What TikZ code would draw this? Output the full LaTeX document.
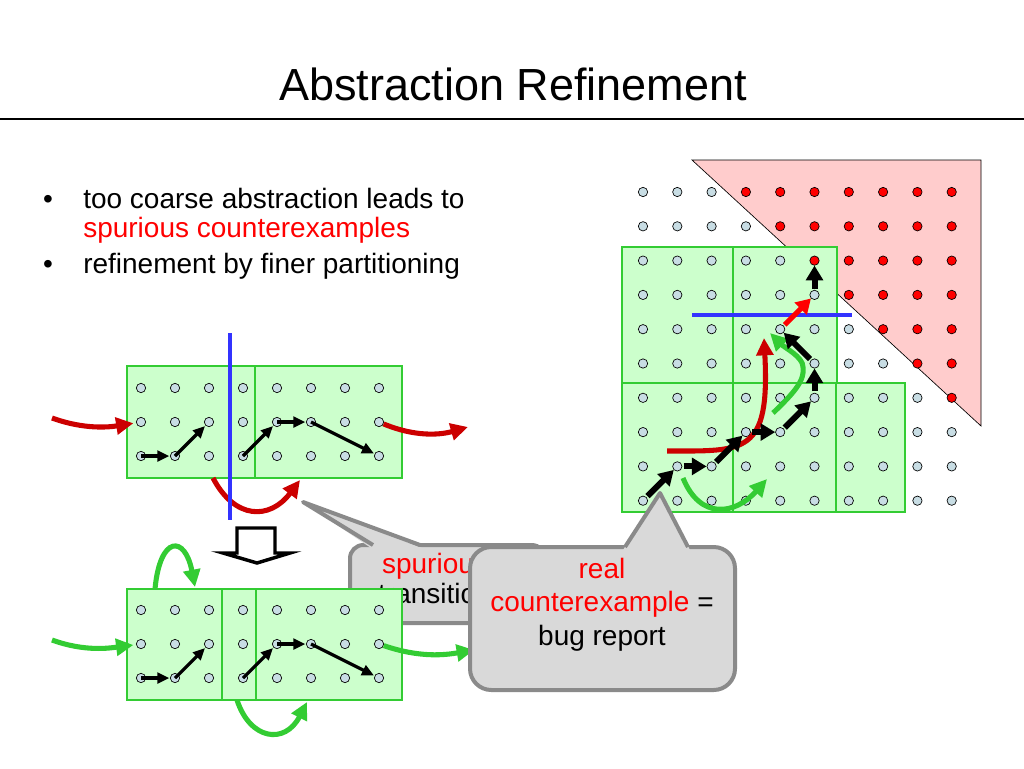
\documentclass[tikz,border=0pt]{standalone}
\usepackage{fontspec}
\setmainfont{Liberation Sans}
\usetikzlibrary{arrows.meta}

\definecolor{boxgreen}{HTML}{CCFFCC}
\definecolor{linegreen}{HTML}{33CC33}
\definecolor{dotblue}{HTML}{C8DDE4}
\definecolor{darkred}{HTML}{CC0000}
\definecolor{brightred}{HTML}{FF0000}
\definecolor{badpink}{HTML}{FFCCCC}
\definecolor{cutblue}{HTML}{3333FF}
\definecolor{bubblegray}{HTML}{D9D9D9}
\definecolor{bubbleedge}{HTML}{8A8A8A}

\tikzset{
  dot/.style={circle,draw=black,line width=0.5pt,fill=dotblue,minimum size=7pt,inner sep=0pt},
  baddot/.style={dot,fill=brightred},
  part/.style={draw=linegreen,line width=2.2pt,fill=boxgreen},
  move/.style={-{Triangle[length=9pt,width=8pt]},line width=2.4pt,shorten >=0.5pt},
  bigmove/.style={-{Triangle[length=11pt,width=12.5pt]},line width=4.5pt,shorten <=1pt},
  redflow/.style={-{Triangle[length=13pt,width=12.5pt]},line width=3.8pt,draw=darkred},
  greenflow/.style={-{Triangle[length=13pt,width=12.5pt]},line width=3.8pt,draw=linegreen},
  cut/.style={draw=cutblue,line width=3.6pt},
  bubble/.style={draw=bubbleedge,line width=3pt,fill=bubblegray},
  txt/.style={font=\fontsize{21}{25}\selectfont,inner sep=0pt}
}

\begin{document}
\begin{tikzpicture}[x=0.75pt,y=-0.75pt]
\useasboundingbox[fill=white] (0,0) rectangle (1024,768);

% title and bullets
\node[anchor=base,font=\fontsize{33.75}{40}\selectfont] (title) at (513,100) {Abstraction Refinement};
\draw[line width=0.8pt] (0,119) -- (1024,119);
\node[txt,anchor=base] (dot1) at (48,208) {\textbullet};
\node[txt,anchor=base west] (b1) at (83,208) {too coarse abstraction leads to};
\node[txt,anchor=base west,text=brightred] (b1b) at (83,237) {spurious counterexamples};
\node[txt,anchor=base] (dot2) at (48,273) {\textbullet};
\node[txt,anchor=base west] (b2) at (83,273) {refinement by finer partitioning};

% bad states
\filldraw[fill=badpink,draw=black,line width=0.5pt] (692,160) -- (981,160) -- (981,426) -- cycle;

% refined partition
\draw[part] (622,247) rectangle (733,383);
\draw[part] (733,247) rectangle (837,383);
\draw[part] (622,383) rectangle (733,512);
\draw[part] (733,383) rectangle (836,512);
\draw[part] (836,383) rectangle (905,512);

\foreach \i in {0,...,9}
  \foreach \j in {0,...,9} {
    \pgfmathtruncatemacro{\d}{\i-\j}
    \ifnum\d>2
      \node[baddot] (g-\i-\j) at ({643+34.3*\i},{192+34.3*\j}) {};
    \else
      \node[dot] (g-\i-\j) at ({643+34.3*\i},{192+34.3*\j}) {};
    \fi
  }

\coordinate (rs) at (667,451);
\coordinate (re) at (764,338);
\draw[redflow] (rs) .. controls (745,451) and (770,455) .. (re);
\coordinate (gs) at (773,413);
\coordinate (gm) at (803,367);
\coordinate (ge) at (770,333);
\draw[greenflow] (gs) .. controls (795,392) and (805,380) .. (gm) .. controls (803,357) and (785,348) .. (ge);
\coordinate (hs) at (683,478);
\coordinate (he) at (767,479);
\draw[greenflow] (hs) .. controls (700,520) and (735,515) .. (he);

\draw[cut] (692,315) -- (852,315);

\begin{scope}[every edge/.style={draw=black,line width=4.5pt}]
  \path[bigmove] (g-0-9) edge (g-1-8);
  \path[bigmove] (g-1-8) edge (g-2-8);
  \path[bigmove] (g-2-8) edge (g-3-7);
  \path[bigmove] (g-3-7) edge (g-4-7);
  \path[bigmove] (g-4-7) edge (g-5-6);
  \path[bigmove] (g-5-6) edge (g-5-5);
  \path[bigmove] (g-5-5) edge (g-4-4);
  \path[bigmove] (g-5-3) edge (g-5-2);
\end{scope}
\path[bigmove] (g-4-4) edge[draw=brightred,line width=3.8pt] (g-5-3);

% coarse partition
\draw[part] (127,366) rectangle (255,478);
\draw[part] (255,366) rectangle (402,478);
\foreach \i in {0,...,7}
  \foreach \j in {0,1,2}
    \node[dot] (u-\i-\j) at ({141+34*\i},{388+34*\j}) {};

\begin{scope}[every edge/.style={draw=black,line width=2.4pt}]
  \path[move] (u-0-2.center) edge (u-1-2);
  \path[move] (u-1-2.center) edge (u-2-1);
  \path[move] (u-3-2.center) edge (u-4-1);
  \path[move] (u-4-1.center) edge (u-5-1);
  \path[move] (u-5-1.center) edge (u-7-2);
\end{scope}

\coordinate (inL) at (52,418);
\coordinate (outL) at (468,427);
\coordinate (dropA) at (213,478);
\coordinate (dropB) at (300,480);
\draw[redflow,shorten >=2pt] (inL) .. controls (85,430) and (110,427) .. (u-0-1);
\draw[redflow] (u-7-1) .. controls (415,437) and (440,435) .. (outL);
\draw[redflow] (dropA) .. controls (235,520) and (270,520) .. (dropB);
\draw[cut] (230,333) -- (230,520);

% refinement step
\draw[line width=2.6pt,fill=white,line join=miter] (237,528) -- (275,528) -- (275,553) -- (290,553) -- (257,563) -- (223,553) -- (237,553) -- cycle;

% spurious transition callout
\draw[bubble,rounded corners=10pt] (350,545) rectangle (545,623);
\fill[bubblegray] (371,548) -- (303,502) -- (422,548) -- cycle;
\draw[draw=bubbleedge,line width=3pt,line join=round] (373,545) -- (303,502) -- (420,545);
\node[txt,anchor=base,text=brightred] (spur1) at (435,573) {spurious};
\node[txt,anchor=base] (spur2) at (435,603) {transition};

% finer partition
\draw[part] (127,589) rectangle (222,700);
\draw[part] (222,589) rectangle (256,700);
\draw[part] (256,589) rectangle (402,700);
\foreach \i in {0,...,7}
  \foreach \j in {0,1,2}
    \node[dot] (l-\i-\j) at ({141+34*\i},{610+34*\j}) {};

\begin{scope}[every edge/.style={draw=black,line width=2.4pt}]
  \path[move] (l-0-2.center) edge (l-1-2);
  \path[move] (l-1-2.center) edge (l-2-1);
  \path[move] (l-3-2.center) edge (l-4-1);
  \path[move] (l-4-1.center) edge (l-5-1);
  \path[move] (l-5-1.center) edge (l-7-2);
\end{scope}

\coordinate (inG) at (52,640);
\coordinate (outG) at (474,650);
\coordinate (loopA) at (155,589);
\coordinate (loopB) at (195,587);
\coordinate (dipA) at (237,700);
\coordinate (dipB) at (307,702);
\draw[greenflow,shorten >=2pt] (inG) .. controls (85,652) and (110,648) .. (l-0-1);
\draw[greenflow] (l-7-1) .. controls (420,658) and (445,655) .. (outG);
\draw[greenflow] (loopA) .. controls (160,535) and (185,535) .. (loopB);
\draw[greenflow] (dipA) .. controls (250,740) and (285,745) .. (dipB);

% real counterexample callout
\draw[bubble,rounded corners=16pt] (470,547) rectangle (735,690);
\fill[bubblegray] (623,550) -- (660,493) -- (690,550) -- cycle;
\draw[draw=bubbleedge,line width=3pt,line join=round] (625,547) -- (660,493) -- (688,547);
\node[txt,anchor=base,text=brightred] (real1) at (602,578) {real};
\node[txt,anchor=base] (real2) at (602,611) {\textcolor{brightred}{counterexample} =};
\node[txt,anchor=base] (real3) at (602,645) {bug report};
\end{tikzpicture}
\end{document}
